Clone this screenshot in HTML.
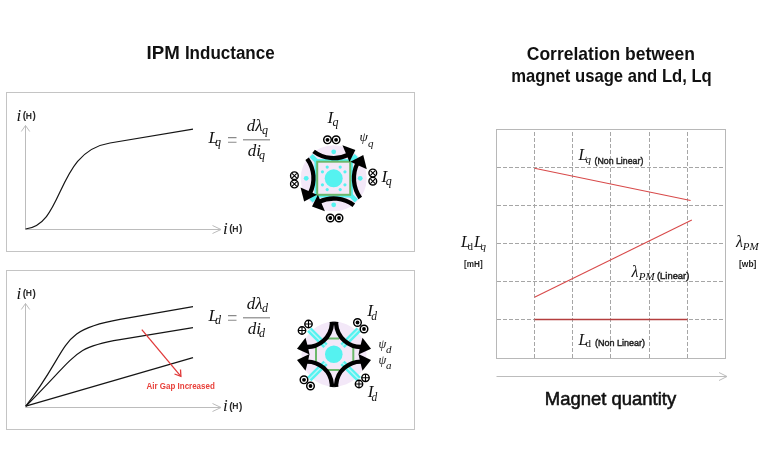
<!DOCTYPE html>
<html><head><meta charset="utf-8">
<style>
html,body{margin:0;padding:0;background:#fff;width:768px;height:460px;overflow:hidden}
svg{display:block;will-change:transform}
.t{font-family:"Liberation Sans",sans-serif;font-weight:bold;fill:#111}
.s{font-family:"Liberation Sans",sans-serif;fill:#222;font-weight:normal;stroke:#222;stroke-width:0.45}
.m{font-family:"Liberation Serif",serif;font-style:italic;fill:#111}
.hh text{font-family:"Liberation Sans",sans-serif;fill:#2a2a2a;font-weight:bold}
.mr{font-family:"Liberation Serif",serif;fill:#111}
</style></head>
<body>
<svg width="768" height="460" viewBox="0 0 768 460">
<!-- titles -->
<text class="t" x="146.6" y="58.8" font-size="18" textLength="33.2" lengthAdjust="spacingAndGlyphs">IPM</text><text class="t" x="184.9" y="58.8" font-size="18" textLength="89.8" lengthAdjust="spacingAndGlyphs">Inductance</text>
<text class="t" x="526.8" y="59.5" font-size="17.8" textLength="168.2" lengthAdjust="spacingAndGlyphs">Correlation between</text>
<text class="t" x="511.2" y="81.5" font-size="17.8" textLength="200.6" lengthAdjust="spacingAndGlyphs">magnet usage and Ld, Lq</text>

<!-- panel boxes -->
<rect x="6.5" y="92.5" width="408" height="159" fill="none" stroke="#c4c4c4" stroke-width="1"/>
<rect x="6.5" y="270.5" width="408" height="159" fill="none" stroke="#c4c4c4" stroke-width="1"/>

<!-- PANEL 1 -->
<g id="p1">
  <line x1="25.5" y1="229.5" x2="25.5" y2="125.5" stroke="#bcbcbc" stroke-width="1"/>
  <polyline points="21.3,131.5 25.5,125.5 29.7,131.5" fill="none" stroke="#bcbcbc" stroke-width="1"/>
  <line x1="25.5" y1="229.5" x2="221" y2="229.5" stroke="#bcbcbc" stroke-width="1"/>
  <polyline points="212.5,225.5 221,229.5 212.5,233.5" fill="none" stroke="#bcbcbc" stroke-width="1"/>
  <path d="M25.5,229 C65.06,224.48 55.21,151.85 110,143 L193,129.1" fill="none" stroke="#151515" stroke-width="1.2"/>
  <text class="m" x="16.5" y="121" font-size="17">i</text>
  <g class="hh"><text x="22.8" y="119.2" font-size="10">(</text><text x="25.7" y="118.6" font-size="8.2" font-weight="bold" textLength="6.2" lengthAdjust="spacingAndGlyphs">H</text><text x="32.5" y="119.2" font-size="10">)</text></g>
  <text class="m" x="223" y="233.6" font-size="17">i</text>
  <g class="hh"><text x="229.3" y="232.2" font-size="10">(</text><text x="232.2" y="231.6" font-size="8.2" font-weight="bold" textLength="6.2" lengthAdjust="spacingAndGlyphs">H</text><text x="239.0" y="232.2" font-size="10">)</text></g>
  <!-- formula -->
  <text class="m" x="208.5" y="143" font-size="17">L</text>
  <text class="m" x="215" y="146" font-size="12">q</text>
  <path d="M228,137.6 H236.5 M228,142.2 H236.5" stroke="#8a8a8a" stroke-width="1.1"/>
  <line x1="243" y1="139.8" x2="270" y2="139.8" stroke="#888" stroke-width="1.2"/>
  <text class="m" x="246.7" y="131.3" font-size="17">dλ</text>
  <text class="m" x="262" y="134" font-size="12">q</text>
  <text class="m" x="247.8" y="155.8" font-size="17">di</text>
  <text class="m" x="259" y="158.8" font-size="12">q</text>
</g>

<!-- PANEL 2 -->
<g id="p2">
  <line x1="25.5" y1="407.5" x2="25.5" y2="303.5" stroke="#bcbcbc" stroke-width="1"/>
  <polyline points="21.3,309.5 25.5,303.5 29.7,309.5" fill="none" stroke="#bcbcbc" stroke-width="1"/>
  <line x1="25.5" y1="407.5" x2="221" y2="407.5" stroke="#bcbcbc" stroke-width="1"/>
  <polyline points="212.5,403.5 221,407.5 212.5,411.5" fill="none" stroke="#bcbcbc" stroke-width="1"/>
  <path d="M25.8,406.2 C72.88,345.25 56.19,330.5 120,319.4 L193,306.7" fill="none" stroke="#151515" stroke-width="1.2"/>
  <path d="M25.8,406.2 C79.12,353.08 72.48,347.41 120,339.6 L193,327.6" fill="none" stroke="#151515" stroke-width="1.2"/>
  <line x1="25.8" y1="406.2" x2="193" y2="357.6" stroke="#151515" stroke-width="1.2"/>
  <line x1="141.8" y1="329.7" x2="180.9" y2="376.3" stroke="#e03a3a" stroke-width="1.3"/>
  <polyline points="174.5,374 180.9,376.3 180.5,369.5" fill="none" stroke="#e03a3a" stroke-width="1.3"/>
  <text class="s" x="146.5" y="388.8" font-size="9.5" style="fill:#e8403a;stroke:none;font-weight:bold" textLength="68.3" lengthAdjust="spacingAndGlyphs">Air Gap Increased</text>
  <text class="m" x="16.5" y="299" font-size="17">i</text>
  <g class="hh"><text x="22.8" y="297.0" font-size="10">(</text><text x="25.7" y="296.4" font-size="8.2" font-weight="bold" textLength="6.2" lengthAdjust="spacingAndGlyphs">H</text><text x="32.5" y="297.0" font-size="10">)</text></g>
  <text class="m" x="223" y="411.4" font-size="17">i</text>
  <g class="hh"><text x="229.3" y="410.0" font-size="10">(</text><text x="232.2" y="409.4" font-size="8.2" font-weight="bold" textLength="6.2" lengthAdjust="spacingAndGlyphs">H</text><text x="239.0" y="410.0" font-size="10">)</text></g>
  <text class="m" x="208.5" y="321" font-size="17">L</text>
  <text class="m" x="215" y="324" font-size="12">d</text>
  <path d="M228,315.6 H236.5 M228,320.2 H236.5" stroke="#8a8a8a" stroke-width="1.1"/>
  <line x1="243" y1="317.8" x2="270" y2="317.8" stroke="#888" stroke-width="1.2"/>
  <text class="m" x="246.7" y="309.3" font-size="17">dλ</text>
  <text class="m" x="262" y="312" font-size="12">d</text>
  <text class="m" x="247.8" y="333.8" font-size="17">di</text>
  <text class="m" x="259" y="336.8" font-size="12">d</text>
</g>

<!-- RIGHT CHART -->
<g id="chart">
  <g stroke="#a6a6a6" stroke-width="1" stroke-dasharray="4 2">
    <g stroke-dashoffset="4">
    <line x1="534.5" y1="130" x2="534.5" y2="358"/>
    <line x1="572.5" y1="130" x2="572.5" y2="358"/>
    <line x1="610.5" y1="130" x2="610.5" y2="358"/>
    <line x1="649.5" y1="130" x2="649.5" y2="358"/>
    <line x1="687.5" y1="130" x2="687.5" y2="358"/>
    </g>
    <line x1="497" y1="167.5" x2="725" y2="167.5"/>
    <line x1="497" y1="205.5" x2="725" y2="205.5"/>
    <line x1="497" y1="243.5" x2="725" y2="243.5"/>
    <line x1="497" y1="281.5" x2="725" y2="281.5"/>
    <line x1="497" y1="319.5" x2="725" y2="319.5"/>
  </g>
  <rect x="496.5" y="129.5" width="229" height="229" fill="none" stroke="#b8b8b8" stroke-width="1"/>
  <line x1="534.5" y1="168.2" x2="690.6" y2="200.5" stroke="#d84a4a" stroke-width="1.1"/>
  <line x1="534.5" y1="297.2" x2="691.8" y2="220.1" stroke="#d84a4a" stroke-width="1.1"/>
  <line x1="534.5" y1="319.5" x2="687.5" y2="319.5" stroke="#b43e3e" stroke-width="1.5"/>
  <line x1="496.5" y1="376.5" x2="727" y2="376.5" stroke="#bcbcbc" stroke-width="1"/>
  <polyline points="719,372.5 727,376.5 719,380.5" fill="none" stroke="#bcbcbc" stroke-width="1"/>
  <text class="t" x="544.8" y="405.2" font-size="17.8" textLength="131.4" lengthAdjust="spacingAndGlyphs" style="font-weight:normal;stroke:#111;stroke-width:0.55">Magnet quantity</text>

  <text class="m" x="578.5" y="159.5" font-size="16">L</text>
  <text class="m" x="585.4" y="162.5" font-size="11">q</text>
  <text class="s" x="594.5" y="164.3" font-size="9.8" textLength="48.8" lengthAdjust="spacingAndGlyphs">(Non Linear)</text>

  <text class="m" x="631.5" y="277.4" font-size="16">λ</text>
  <text class="m" x="638.7" y="280" font-size="11">PM</text>
  <text class="s" x="657" y="279.1" font-size="9.8" textLength="32.3" lengthAdjust="spacingAndGlyphs">(Linear)</text>

  <text class="m" x="578.5" y="344.7" font-size="16">L</text>
  <text class="mr" x="585.4" y="346.8" font-size="11">d</text>
  <text class="s" x="595" y="346.4" font-size="9.8" textLength="50" lengthAdjust="spacingAndGlyphs">(Non Linear)</text>

  <text class="m" x="461" y="246.7" font-size="16">L</text>
  <text class="mr" x="467.4" y="249.5" font-size="11">d</text>
  <text class="m" x="474" y="246.7" font-size="16">L</text>
  <text class="m" x="480.4" y="249.5" font-size="11">q</text>
  <text class="s" x="464" y="267" font-size="9.5" style="font-weight:bold;stroke:none;fill:#1a1a1a" textLength="18.6" lengthAdjust="spacingAndGlyphs">[mH]</text>

  <text class="m" x="736" y="246.7" font-size="16">λ</text>
  <text class="m" x="742.8" y="249.5" font-size="11">PM</text>
  <text class="s" x="739" y="267" font-size="9.5" style="font-weight:bold;stroke:none;fill:#1a1a1a" textLength="17.4" lengthAdjust="spacingAndGlyphs">[wb]</text>
</g>

<!-- icon labels -->
<g class="lbl">
  <text class="m" x="327.6" y="123.4" font-size="17">I</text>
  <text class="m" x="332.6" y="125.6" font-size="12">q</text>
  <text class="m" x="359.6" y="141.4" font-size="13.5">ψ</text>
  <text class="m" x="368" y="146.5" font-size="11">q</text>
  <text class="m" x="381.4" y="182.2" font-size="17">I</text>
  <text class="m" x="385.8" y="185.2" font-size="12">q</text>

  <text class="m" x="367.2" y="316.2" font-size="17">I</text>
  <text class="m" x="371.2" y="319.5" font-size="11.5">d</text>
  <text class="m" x="378.5" y="348.3" font-size="12.5">ψ</text>
  <text class="m" x="386" y="353" font-size="11">d</text>
  <text class="m" x="378.5" y="363.5" font-size="12.5">ψ</text>
  <text class="m" x="386" y="368.5" font-size="11">a</text>
  <text class="m" x="367.8" y="397.4" font-size="17">I</text>
  <text class="m" x="371.4" y="400.8" font-size="11.5">d</text>
</g>
<g transform="translate(333.7,178.3)">
<circle r="33" fill="#f3e8f8"/>
<line x1="0" y1="-20" x2="0" y2="-32" stroke="#55f2f0" stroke-width="4.5" transform="rotate(45)"/>
<line x1="0" y1="-20" x2="0" y2="-32" stroke="#55f2f0" stroke-width="4.5" transform="rotate(135)"/>
<line x1="0" y1="-20" x2="0" y2="-32" stroke="#55f2f0" stroke-width="4.5" transform="rotate(225)"/>
<line x1="0" y1="-20" x2="0" y2="-32" stroke="#55f2f0" stroke-width="4.5" transform="rotate(315)"/>
<rect x="-18" y="-18" width="36" height="36" fill="none" stroke="#55f2f0" stroke-width="2.4"/>
<circle cx="0" cy="-26.5" r="2.4" fill="#55f2f0"/>
<circle cx="0" cy="26.5" r="2.4" fill="#55f2f0"/>
<circle cx="-27.5" cy="0" r="2.4" fill="#55f2f0"/>
<circle cx="26.5" cy="0" r="2.4" fill="#55f2f0"/>
<rect x="-16.5" y="-16.6" width="33" height="33.1" fill="#f3e8f8" stroke="#6cb86c" stroke-width="2"/>
<circle r="9" fill="#55f2f0"/>
<circle cx="6.5" cy="-11.26" r="1.6" fill="#55f2f0"/>
<circle cx="11.26" cy="-6.5" r="1.6" fill="#55f2f0"/>
<circle cx="11.26" cy="6.5" r="1.6" fill="#55f2f0"/>
<circle cx="6.5" cy="11.26" r="1.6" fill="#55f2f0"/>
<circle cx="-6.5" cy="11.26" r="1.6" fill="#55f2f0"/>
<circle cx="-11.26" cy="6.5" r="1.6" fill="#55f2f0"/>
<circle cx="-11.26" cy="-6.5" r="1.6" fill="#55f2f0"/>
<circle cx="-6.5" cy="-11.26" r="1.6" fill="#55f2f0"/>
<g><path d="M20.1,26.93 A33.4,33.4 0 0 0 -14.64,23.58" fill="none" stroke="#000" stroke-width="4.3"/><path d="M-8.75,32.98 L-21.69,28.2 L-15.79,16.41 Z" fill="#000"/><path d="M-26.58,-19.63 A33.4,33.4 0 0 1 -23.84,15.16" fill="none" stroke="#000" stroke-width="4.3"/><path d="M-33.14,9.11 L-29.57,23.2 L-16.69,16.43 Z" fill="#000"/></g>
<g transform="rotate(180)"><path d="M20.1,26.93 A33.4,33.4 0 0 0 -14.64,23.58" fill="none" stroke="#000" stroke-width="4.3"/><path d="M-8.75,32.98 L-21.69,28.2 L-15.79,16.41 Z" fill="#000"/><path d="M-26.58,-19.63 A33.4,33.4 0 0 1 -23.84,15.16" fill="none" stroke="#000" stroke-width="4.3"/><path d="M-33.14,9.11 L-29.57,23.2 L-16.69,16.43 Z" fill="#000"/></g>
</g>
<circle cx="327.5" cy="139.8" r="3.8" fill="#fff" stroke="#000" stroke-width="1.45"/><circle cx="327.5" cy="139.8" r="1.9" fill="#000"/>
<circle cx="336.1" cy="139.8" r="3.8" fill="#fff" stroke="#000" stroke-width="1.45"/><circle cx="336.1" cy="139.8" r="1.9" fill="#000"/>
<circle cx="330.3" cy="218" r="3.8" fill="#fff" stroke="#000" stroke-width="1.45"/><circle cx="330.3" cy="218" r="1.9" fill="#000"/>
<circle cx="339" cy="218" r="3.8" fill="#fff" stroke="#000" stroke-width="1.45"/><circle cx="339" cy="218" r="1.9" fill="#000"/>
<circle cx="294.4" cy="175.7" r="3.85" fill="#fff" stroke="#000" stroke-width="1.4"/><path d="M292.01,173.31 L296.79,178.09 M292.01,178.09 L296.79,173.31" stroke="#000" stroke-width="1.1"/>
<circle cx="294.4" cy="184" r="3.85" fill="#fff" stroke="#000" stroke-width="1.4"/><path d="M292.01,181.61 L296.79,186.39 M292.01,186.39 L296.79,181.61" stroke="#000" stroke-width="1.1"/>
<circle cx="372.8" cy="173" r="3.85" fill="#fff" stroke="#000" stroke-width="1.4"/><path d="M370.41,170.61 L375.19,175.39 M370.41,175.39 L375.19,170.61" stroke="#000" stroke-width="1.1"/>
<circle cx="372.8" cy="181.2" r="3.85" fill="#fff" stroke="#000" stroke-width="1.4"/><path d="M370.41,178.81 L375.19,183.59 M370.41,183.59 L375.19,178.81" stroke="#000" stroke-width="1.1"/>
<g transform="translate(334,354.3)">
<circle r="32.5" fill="#f3e8f8"/>
<g transform="rotate(45)"><line x1="0" y1="-12" x2="0" y2="-35" stroke="#55f2f0" stroke-width="6"/><line x1="0" y1="-12" x2="0" y2="-35" stroke="#b8f6f6" stroke-width="1.5"/></g>
<g transform="rotate(135)"><line x1="0" y1="-12" x2="0" y2="-35" stroke="#55f2f0" stroke-width="6"/><line x1="0" y1="-12" x2="0" y2="-35" stroke="#b8f6f6" stroke-width="1.5"/></g>
<g transform="rotate(225)"><line x1="0" y1="-12" x2="0" y2="-35" stroke="#55f2f0" stroke-width="6"/><line x1="0" y1="-12" x2="0" y2="-35" stroke="#b8f6f6" stroke-width="1.5"/></g>
<g transform="rotate(315)"><line x1="0" y1="-12" x2="0" y2="-35" stroke="#55f2f0" stroke-width="6"/><line x1="0" y1="-12" x2="0" y2="-35" stroke="#b8f6f6" stroke-width="1.5"/></g>
<path d="M-6.5,-15.7 H5 M-6,15.7 H5.5 M-18,-7 V7 M19.3,-6.5 V7" fill="none" stroke="#6cb86c" stroke-width="2"/>
<circle cx="-0.2" r="8.8" fill="#55f2f0"/>
<g><path d="M-2.3,-32.6 L-2.06,-30.56 A25,25 0 0 1 -28.74,-7.36" fill="none" stroke="#000" stroke-width="4.3"/><path d="M-28.5,-16.5 L-37,-5.6 L-24.5,0.2 L-26,-7 Z" fill="#000"/></g>
<g transform="scale(-1,1)"><path d="M-2.3,-32.6 L-2.06,-30.56 A25,25 0 0 1 -28.74,-7.36" fill="none" stroke="#000" stroke-width="4.3"/><path d="M-28.5,-16.5 L-37,-5.6 L-24.5,0.2 L-26,-7 Z" fill="#000"/></g>
<g transform="scale(1,-1)"><path d="M-2.3,-32.6 L-2.06,-30.56 A25,25 0 0 1 -28.74,-7.36" fill="none" stroke="#000" stroke-width="4.3"/><path d="M-28.5,-16.5 L-37,-5.6 L-24.5,0.2 L-26,-7 Z" fill="#000"/></g>
<g transform="scale(-1,-1)"><path d="M-2.3,-32.6 L-2.06,-30.56 A25,25 0 0 1 -28.74,-7.36" fill="none" stroke="#000" stroke-width="4.3"/><path d="M-28.5,-16.5 L-37,-5.6 L-24.5,0.2 L-26,-7 Z" fill="#000"/></g>
</g>
<circle cx="302" cy="330.5" r="3.7" fill="#fff" stroke="#000" stroke-width="1.4"/><path d="M298.3,330.5 L305.7,330.5 M302,326.8 L302,334.2" stroke="#000" stroke-width="1.1"/>
<circle cx="308.5" cy="324" r="3.7" fill="#fff" stroke="#000" stroke-width="1.4"/><path d="M304.8,324 L312.2,324 M308.5,320.3 L308.5,327.7" stroke="#000" stroke-width="1.1"/>
<circle cx="357.5" cy="322.5" r="3.8" fill="#fff" stroke="#000" stroke-width="1.45"/><circle cx="357.5" cy="322.5" r="1.9" fill="#000"/>
<circle cx="364" cy="329" r="3.8" fill="#fff" stroke="#000" stroke-width="1.45"/><circle cx="364" cy="329" r="1.9" fill="#000"/>
<circle cx="304" cy="379.8" r="3.8" fill="#fff" stroke="#000" stroke-width="1.45"/><circle cx="304" cy="379.8" r="1.9" fill="#000"/>
<circle cx="310.5" cy="386" r="3.8" fill="#fff" stroke="#000" stroke-width="1.45"/><circle cx="310.5" cy="386" r="1.9" fill="#000"/>
<circle cx="359" cy="384" r="3.7" fill="#fff" stroke="#000" stroke-width="1.4"/><path d="M355.3,384 L362.7,384 M359,380.3 L359,387.7" stroke="#000" stroke-width="1.1"/>
<circle cx="365.5" cy="377.8" r="3.7" fill="#fff" stroke="#000" stroke-width="1.4"/><path d="M361.8,377.8 L369.2,377.8 M365.5,374.1 L365.5,381.5" stroke="#000" stroke-width="1.1"/>
</svg>
</body></html>
